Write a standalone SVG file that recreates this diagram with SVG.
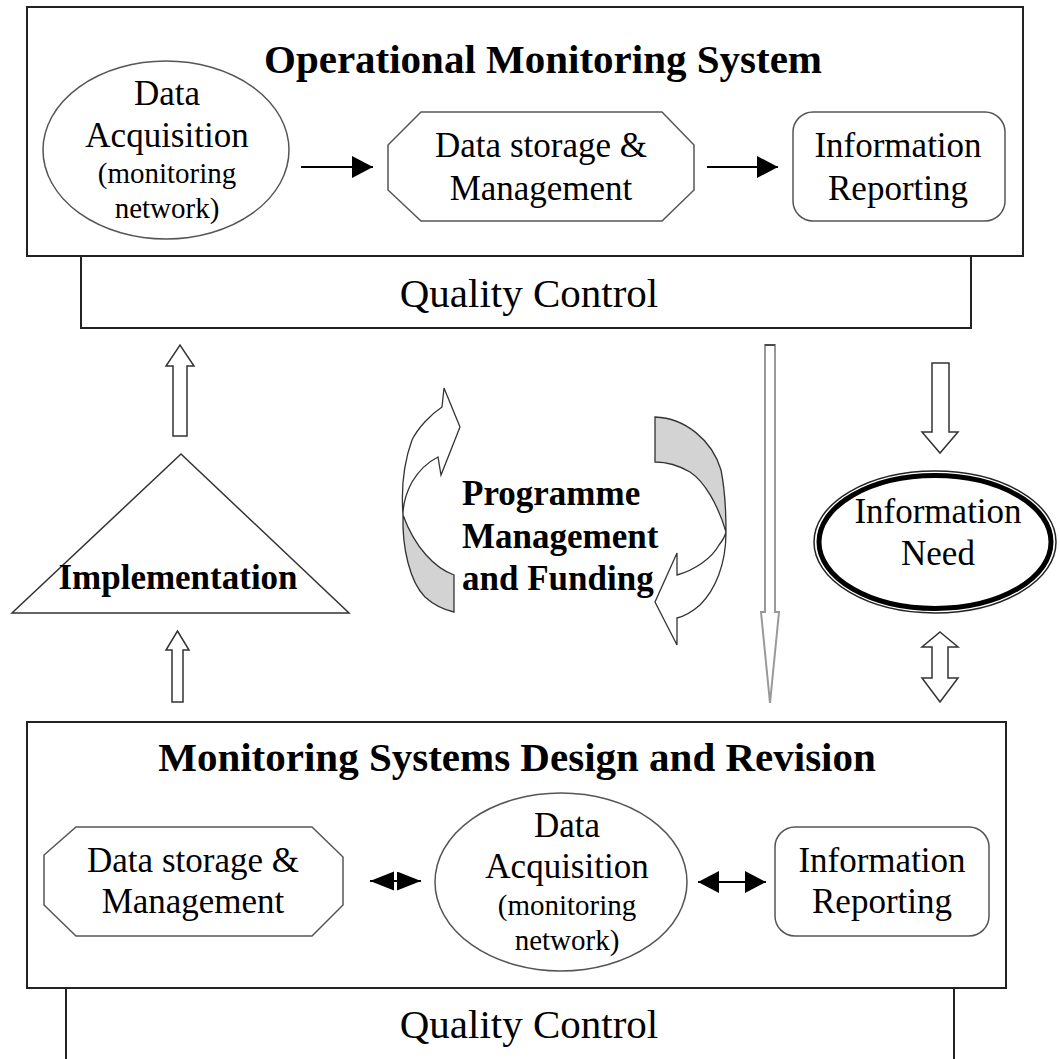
<svg xmlns="http://www.w3.org/2000/svg" width="1060" height="1059" viewBox="0 0 1060 1059">
<style>
text{font-family:"Liberation Serif","Times New Roman",serif;fill:#000}
.t{font-size:35px;text-anchor:middle}
.s{font-size:29px;text-anchor:middle}
.h{font-size:41px;font-weight:bold;text-anchor:middle}
.b{font-size:35px;font-weight:bold}
.qc{font-size:41px;text-anchor:middle}
.box{fill:#fff;stroke:#222;stroke-width:2}
.node{fill:#fff;stroke:#555;stroke-width:1.5}
.hollow{fill:#fff;stroke:#333;stroke-width:1.5;stroke-linejoin:miter}
.line{stroke:#000;stroke-width:2;fill:none}
.gray{fill:#d3d3d3;stroke:#333;stroke-width:1.3}
.band{fill:#fff;stroke:#333;stroke-width:1.3}
</style>
<defs>
<marker id="ah" markerUnits="userSpaceOnUse" markerWidth="22" markerHeight="22" refX="21" refY="11" orient="auto-start-reverse">
<path d="M0,0 L21,11 L0,22 Z" fill="#000"/>
</marker>
<marker id="ah2" markerUnits="userSpaceOnUse" markerWidth="25" markerHeight="20" refX="24" refY="9.5" orient="auto-start-reverse">
<path d="M0,0 L24,9.5 L0,19 Z" fill="#000"/>
</marker>
</defs>
<rect width="1060" height="1059" fill="#fff"/>

<g id="top-quality-control">
<rect class="box" x="81" y="200" width="890" height="128"/>
<text class="qc" x="529" y="307">Quality Control</text>
</g>
<g id="operational-monitoring-system">
<rect class="box" x="27" y="7" width="996" height="249"/>
<text class="h" x="543" y="73">Operational Monitoring System</text>
</g>
<g id="top-data-acquisition">
<ellipse class="node" cx="166" cy="150" rx="123" ry="89"/>
<text class="t" x="167" y="105">Data</text>
<text class="t" x="167" y="147">Acquisition</text>
<text class="s" x="167" y="183">(monitoring</text>
<text class="s" x="167" y="218">network)</text>
</g>
<g id="top-data-storage">
<polygon class="node" points="421,112 662,112 694,145 694,190 662,221 421,221 388,190 388,145"/>
<text class="t" x="541" y="157">Data storage &amp;</text>
<text class="t" x="541" y="200">Management</text>
</g>
<g id="top-information-reporting">
<rect class="node" x="793" y="112" width="212" height="109" rx="20"/>
<text class="t" x="898" y="157">Information</text>
<text class="t" x="898" y="200">Reporting</text>
</g>

<g id="implementation">
<polygon fill="#fff" stroke="#333" stroke-width="1.5" points="181,454 349,613 12,613"/>
<text class="b" x="178" y="589" text-anchor="middle">Implementation</text>
</g>

<g id="programme-management">
<path class="gray" d="M454,575 C435,568 415,548 403,515 C402,548 410,582 425,597 C435,606 445,610 454,612 Z"/>
<path class="band" d="M403,515 C401,488 404,462 412,440 C418,428 430,415 442,407 L444,388 L460,427 L441,475 L438,457 C428,462 418,472 412,482 C405,495 403,505 403,515 Z"/>
<path class="gray" d="M655,417 C685,418 712,440 721,470 C725,490 726,515 726,532 C718,505 705,482 690,472 C678,465 665,462 655,462 Z"/>
<path class="band" d="M726,532 C726,565 715,590 700,605 C692,612 685,616 677,618 L677,645 L655,602 L677,553 L677,575 C695,570 712,558 719,545 C723,540 725,536 726,532 Z"/>
<text class="b" x="462" y="505">Programme</text>
<text class="b" x="462" y="548">Management</text>
<text class="b" x="462" y="590">and Funding</text>
</g>

<g id="information-need">
<ellipse cx="935" cy="542" rx="121" ry="71" fill="#fff" stroke="#222" stroke-width="1.5"/>
<ellipse cx="935" cy="542" rx="116" ry="66.5" fill="#fff" stroke="#000" stroke-width="5"/>
<text class="t" x="938" y="523">Information</text>
<text class="t" x="938" y="565">Need</text>
</g>

<g id="bottom-quality-control">
<rect class="box" x="66" y="900" width="888" height="180"/>
<text class="qc" x="529" y="1038">Quality Control</text>
</g>
<g id="monitoring-systems-design">
<rect class="box" x="27" y="722" width="979" height="266"/>
<text class="h" x="517" y="771">Monitoring Systems Design and Revision</text>
</g>
<g id="bottom-data-storage">
<polygon class="node" points="76,827 312,827 343,857 343,905 312,936 76,936 44,905 44,855"/>
<text class="t" x="193" y="872">Data storage &amp;</text>
<text class="t" x="193" y="913">Management</text>
</g>
<g id="bottom-data-acquisition">
<ellipse class="node" cx="561" cy="882" rx="126" ry="89"/>
<text class="t" x="567" y="837">Data</text>
<text class="t" x="567" y="878">Acquisition</text>
<text class="s" x="567" y="915">(monitoring</text>
<text class="s" x="567" y="950">network)</text>
</g>
<g id="bottom-information-reporting">
<rect class="node" x="775" y="827" width="214" height="109" rx="20"/>
<text class="t" x="882" y="872">Information</text>
<text class="t" x="882" y="913">Reporting</text>
</g>

<g id="connectors">
<line class="line" x1="301" y1="167" x2="373" y2="167" marker-end="url(#ah)"/>
<line class="line" x1="707" y1="167" x2="778" y2="167" marker-end="url(#ah)"/>
<line class="line" x1="370" y1="881" x2="421" y2="881" marker-start="url(#ah2)" marker-end="url(#ah2)"/>
<line class="line" x1="698" y1="882" x2="766" y2="882" marker-start="url(#ah)" marker-end="url(#ah)"/>
<polygon class="hollow" points="173,436 173,366 166,366 180,345 194,366 187,366 187,436"/>
<polygon class="hollow" points="172,702 172,650 166,650 177.5,631 189,650 183,650 183,702"/>
<polygon fill="#fff" stroke="#999" stroke-width="2" points="765,345 775,345 775,612 779,612 770,703 761,612 765,612"/>
<line x1="765" y1="345" x2="775" y2="345" stroke="#333" stroke-width="1.5"/>
<polygon class="hollow" points="932,363 949,363 949,432 958,432 940,453 922,432 932,432"/>
<polygon class="hollow" points="940,632 958,647 948,647 948,678 958,678 940,702 922,678 932,678 932,647 922,647"/>
</g>
</svg>
